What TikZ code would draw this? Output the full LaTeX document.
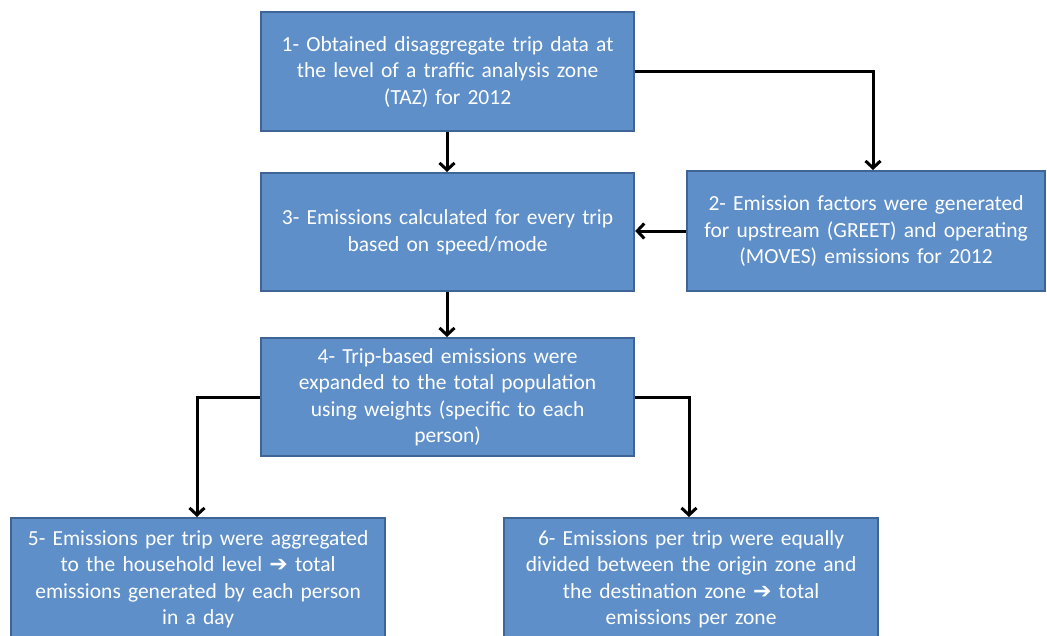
\documentclass[tikz,border=0pt]{standalone}
\usepackage{fontspec}
\setmainfont{Carlito}
\newfontfamily\dv{DejaVu Sans}
\usetikzlibrary{arrows.meta}
\definecolor{boxfill}{RGB}{94,143,200}
\definecolor{boxline}{RGB}{62,101,150}
\newcommand{\harr}{{\dv\fontsize{22}{26.5}\selectfont ➔}}
\tikzset{
  stepbox/.style={draw=boxline, line width=2.2pt, fill=boxfill, text=white,
    minimum height=#1, inner sep=0pt, align=center,
    font=\fontsize{21.5}{26.5}\selectfont, anchor=north west},
  conn/.style={line width=3pt, black, -{Straight Barb[length=7pt,width=15pt,line width=3pt]}}
}
\begin{document}
\begin{tikzpicture}[x=1pt,y=-1pt]
\useasboundingbox (0,0) rectangle (1047,635);
\node[stepbox=119pt, minimum width=373pt, text width=365pt] (b1) at (260,11)
  {1- Obtained disaggregate trip data at\\ the level of a traffic analysis zone\\ (TAZ) for 2012};
\node[stepbox=118pt, minimum width=373pt, text width=365pt] (b3) at (260,172)
  {3- Emissions calculated for every trip\\ based on speed/mode};
\node[stepbox=120pt, minimum width=358pt, text width=350pt] (b2) at (686,170)
  {2- Emission factors were generated\\ for upstream (GREET) and operating\\ (MOVES) emissions for 2012};
\node[stepbox=118pt, minimum width=373pt, text width=365pt] (b4) at (260,337)
  {4- Trip-based emissions were\\ expanded to the total population\\ using weights (specific to each\\ person)};
\node[stepbox=122pt, minimum width=374pt, text width=366pt] (b5) at (10,517)
  {5- Emissions per trip were aggregated\\ to the household level \harr{} total\\ emissions generated by each person\\ in a day};
\node[stepbox=122pt, minimum width=374pt, text width=366pt] (b6) at (503,517)
  {6- Emissions per trip were equally\\ divided between the origin zone and\\ the destination zone \harr{} total\\ emissions per zone};
\coordinate (c12) at (873,71);
\coordinate (c45) at (197,397);
\coordinate (c46) at (689,397);
\draw[conn] (b1.south -| 447,0) -- (b3.north -| 447,0);
\draw[conn] (b1.east |- c12) -- (c12) -- (c12 |- b2.north);
\draw[conn] (b2.west |- 0,231) -- (b3.east |- 0,231);
\draw[conn] (b3.south -| 447,0) -- (b4.north -| 447,0);
\draw[conn] (b4.west |- c45) -- (c45) -- (c45 |- b5.north);
\draw[conn] (b4.east |- c46) -- (c46) -- (c46 |- b6.north);
\end{tikzpicture}
\end{document}
